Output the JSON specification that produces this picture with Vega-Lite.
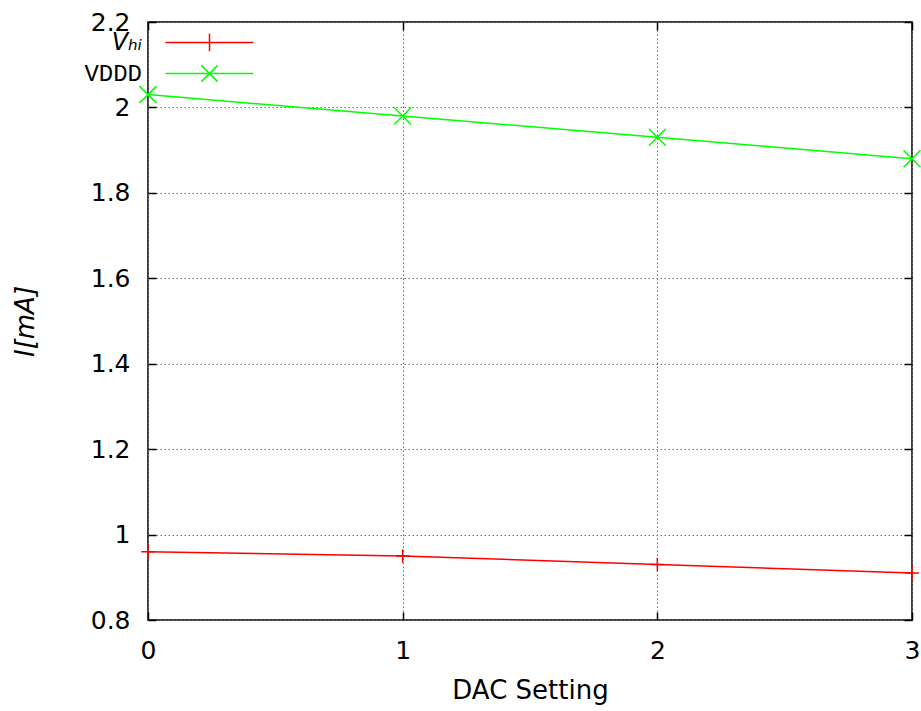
{
  "$schema": "https://vega.github.io/schema/vega-lite/v6.json",
  "width": 764,
  "height": 598,
  "autosize": {"type": "none"},
  "padding": {"left": 148, "top": 22, "right": 9, "bottom": 91},
  "background": "white",
  "config": {
    "view": {"stroke": "black", "strokeWidth": 1.5},
    "axis": {
      "labelFont": "DejaVu Sans",
      "labelFontSize": 25,
      "labelColor": "black",
      "labelFlush": false,
      "labelOverlap": false,
      "titleFont": "DejaVu Sans",
      "titleFontSize": 26,
      "titleFontWeight": "normal",
      "titleColor": "black",
      "tickColor": "black",
      "tickWidth": 1.5,
      "domain": false,
      "gridColor": "#707070",
      "gridDash": [1.5, 2.5],
      "gridWidth": 1,
      "gridOpacity": 1
    }
  },
  "data": {
    "values": [
      {"dac": 0, "series": "Vhi", "current": 0.96},
      {"dac": 1, "series": "Vhi", "current": 0.95},
      {"dac": 2, "series": "Vhi", "current": 0.93},
      {"dac": 3, "series": "Vhi", "current": 0.91},
      {"dac": 0, "series": "VDDD", "current": 2.03},
      {"dac": 1, "series": "VDDD", "current": 1.98},
      {"dac": 2, "series": "VDDD", "current": 1.93},
      {"dac": 3, "series": "VDDD", "current": 1.88}
    ]
  },
  "layer": [
    {
      "mark": {"type": "line", "strokeWidth": 1.5, "clip": false},
      "encoding": {
        "x": {
          "field": "dac", "type": "quantitative",
          "scale": {"domain": [0, 3], "nice": false, "zero": false},
          "axis": {
            "orient": "bottom", "values": [0, 1, 2, 3], "format": "d",
            "tickSize": -8, "labelPadding": 26, "grid": true,
            "title": "DAC Setting", "titleY": 70, "titleBaseline": "middle"
          }
        },
        "y": {
          "field": "current", "type": "quantitative",
          "scale": {"domain": [0.8, 2.2], "nice": false, "zero": false},
          "axis": {
            "orient": "left", "values": [0.8, 1, 1.2, 1.4, 1.6, 1.8, 2, 2.2],
            "format": ".1~f", "tickSize": -8, "labelPadding": 26, "grid": true,
            "title": "I[mA]", "titleFontStyle": "italic", "titleAngle": -90,
            "titleX": -123, "titleY": 299, "titleBaseline": "middle", "titleAlign": "center"
          }
        },
        "color": {
          "field": "series", "type": "nominal",
          "scale": {"domain": ["Vhi", "VDDD"], "range": ["#ff0000", "#00ff00"]},
          "legend": {
            "orient": "none", "legendX": 46, "legendY": 5, "title": null, "padding": 0,
            "labelAlign": "right", "labelOffset": -83, "labelFontSize": 24, "labelColor": "black",
            "labelBaseline": "middle",
            "symbolSize": 841, "symbolStrokeWidth": 1.5, "rowPadding": 3,
            "labelExpr": "datum.value == 'Vhi' ? 'Vₕᵢ' : 'VDDD'",
            "encode": {
              "symbols": {
                "update": {
                  "shape": {"signal": "datum.value == 'Vhi' ? 'M-3.03,0H3.03M0,-0.6V0.6' : 'M-3.03,0H3.03M-0.56,-0.56L0.56,0.56M-0.56,0.56L0.56,-0.56'"},
                  "fill": {"value": "transparent"}
                }
              },
              "labels": {
                "update": {
                  "font": {"signal": "datum.value == 'Vhi' ? 'DejaVu Sans' : 'Liberation Mono'"},
                  "fontStyle": {"signal": "datum.value == 'Vhi' ? 'italic' : 'normal'"}
                }
              }
            }
          }
        }
      }
    },
    {
      "transform": [{"filter": "datum.series == 'Vhi'"}],
      "mark": {"type": "point", "filled": false, "strokeWidth": 1.5, "size": 289, "opacity": 1, "clip": false, "shape": "M-0.8,0H0.8M0,-0.8V0.8", "color": "#ff0000"},
      "encoding": {
        "x": {
          "field": "dac", "type": "quantitative",
          "axis": {"orient": "top", "values": [0, 1, 2, 3], "labels": false, "grid": false, "tickSize": -8, "title": null}
        },
        "y": {
          "field": "current", "type": "quantitative",
          "axis": {"orient": "right", "values": [0.8, 1, 1.2, 1.4, 1.6, 1.8, 2, 2.2], "labels": false, "grid": false, "tickSize": -8, "title": null}
        }
      }
    },
    {
      "transform": [{"filter": "datum.series == 'VDDD'"}],
      "mark": {"type": "point", "filled": false, "strokeWidth": 1.5, "size": 289, "opacity": 1, "clip": false, "shape": "M-1,-1L1,1M-1,1L1,-1", "color": "#00ff00"},
      "encoding": {
        "x": {"field": "dac", "type": "quantitative", "axis": null},
        "y": {"field": "current", "type": "quantitative", "axis": null}
      }
    }
  ],
  "resolve": {"axis": {"x": "independent", "y": "independent"}}
}
